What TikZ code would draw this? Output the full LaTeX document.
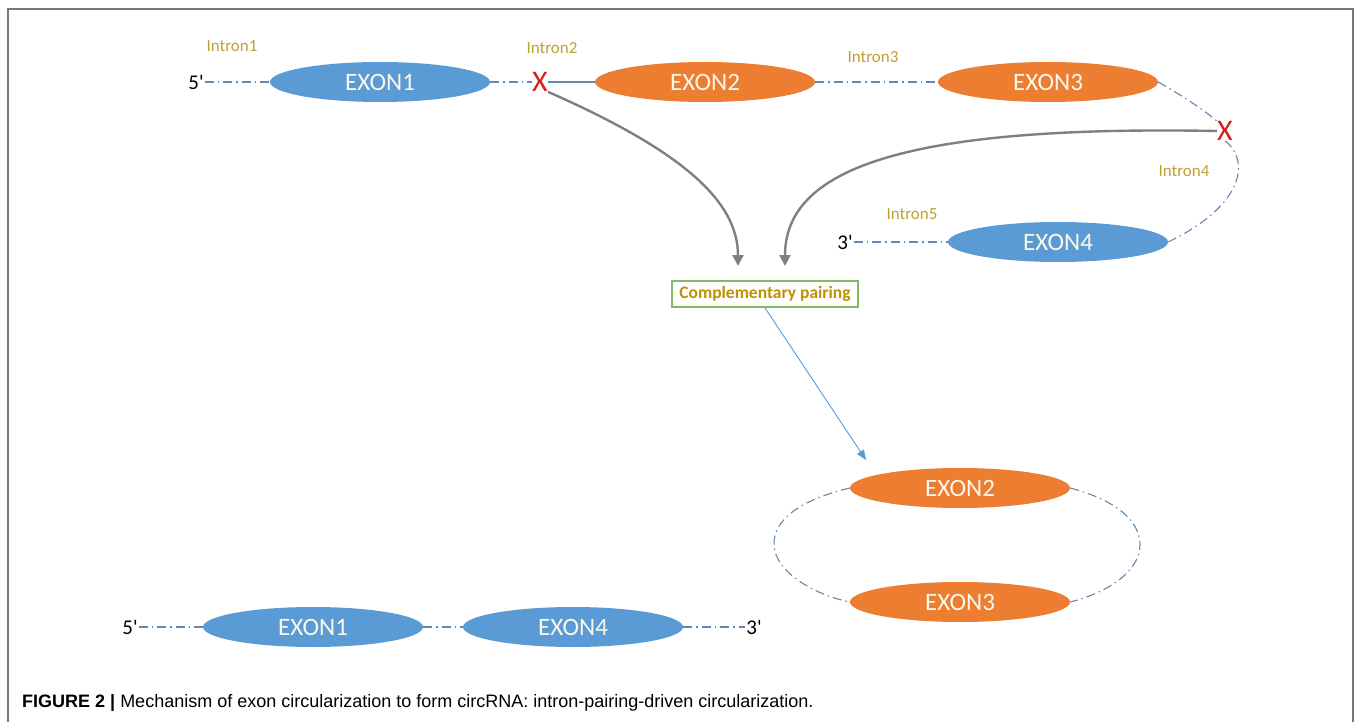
\documentclass[tikz,border=0pt]{standalone}
\usepackage{fontspec}
\setmainfont{Carlito}
\newfontfamily\capfont{Liberation Sans}
\usetikzlibrary{shapes.geometric,arrows.meta}
\definecolor{exblue}{RGB}{91,155,213}
\definecolor{exorange}{RGB}{237,125,49}
\definecolor{extext}{RGB}{250,248,235}
\definecolor{intgold}{RGB}{190,160,50}
\definecolor{pairgold}{RGB}{191,144,0}
\definecolor{boxgreen}{RGB}{130,185,100}
\definecolor{linkblue}{RGB}{100,135,175}
\definecolor{arrgray}{RGB}{128,128,128}
\definecolor{framegray}{RGB}{120,120,120}
\definecolor{cutred}{RGB}{215,30,30}
\tikzset{
  exon/.style={ellipse, minimum width=220pt, minimum height=40pt, inner sep=0pt,
    text=extext, font=\fontsize{25}{27}\selectfont},
  blueexon/.style={exon, fill=exblue},
  orangeexon/.style={exon, fill=exorange},
  intlabel/.style={text=intgold, font=\fontsize{17}{19}\selectfont},
  endlabel/.style={text=black, font=\fontsize{21}{23}\selectfont, inner sep=1pt},
  cut/.style={text=cutred, font=\fontsize{30}{32}\selectfont, inner sep=0pt},
  intron/.style={draw=linkblue, line width=1.1pt, dash pattern=on 9pt off 4pt on 1.5pt off 4pt},
  bigarrow/.style={draw=arrgray, line width=2.4pt, -{Triangle[length=11pt,width=11pt]}},
  thinarrow/.style={draw=exblue, line width=0.9pt, -{Triangle[length=10pt,width=8pt]}},
  pairbox/.style={draw=boxgreen, line width=1.8pt, fill=white, text=pairgold,
    font=\bfseries\fontsize{17.5}{19}\selectfont, minimum width=186pt, minimum height=26pt, inner sep=1pt}
}
\begin{document}
\begin{tikzpicture}[x=1pt,y=-1pt]
\useasboundingbox (0,0) rectangle (1360,722);
% frame
\draw[framegray, line width=2pt] (8,722) -- (8,9) -- (1353,9) -- (1353,722);

% top row
\node[endlabel] (p5a) at (196,82) {5\textquotesingle};
\node[blueexon] (e1) at (380,82) {EXON1};
\node[cut] (x1) at (540,82) {X};
\node[orangeexon] (e2) at (705,82) {EXON2};
\node[orangeexon] (e3) at (1048,82) {EXON3};
\node[cut] (x2) at (1225,131) {X};
\node[blueexon] (e4) at (1058,242) {EXON4};
\node[endlabel] (p3a) at (845,242) {3\textquotesingle};

\node[intlabel] (i1) at (232,46) {Intron1};
\node[intlabel] (i2) at (552,48) {Intron2};
\node[intlabel] (i3) at (873,57) {Intron3};
\node[intlabel] (i4) at (1184,171) {Intron4};
\node[intlabel] (i5) at (912,214) {Intron5};

\draw[intron] (p5a.east) -- (e1.west);
\draw[intron] (e1.east) -- (x1.west);
\draw[draw=linkblue, line width=1.1pt] (x1.east) -- (e2.west);
\draw[intron] (e2.east) -- (e3.west);
\draw[intron] (e3.east) .. controls (1190,100) and (1210,115) .. (x2.north west);
\draw[intron] (x2.south) .. controls (1250,160) and (1245,205) .. (e4.east);
\draw[intron] (p3a.east) -- (e4.west);

% complementary pairing
\node[pairbox] (cp) at (765,294) {Complementary pairing};
\coordinate (t1) at (738,266);
\coordinate (t2) at (785,266);
\draw[bigarrow] (x1.south east) .. controls (680,150) and (738,200) .. (t1);
\draw[bigarrow] (x2.west) .. controls (900,125) and (785,170) .. (t2);

% circular product
\node[orangeexon] (e2b) at (960,488) {EXON2};
\node[orangeexon] (e3b) at (960,602) {EXON3};
\coordinate (t3) at (866,460);
\draw[thinarrow] (cp.south) -- (t3);
\draw[intron] (e2b.west) .. controls (800,500) and (773,520) .. (774,545) .. controls (775,572) and (815,595) .. (e3b.west);
\draw[intron] (e2b.east) .. controls (1115,500) and (1140,520) .. (1140,545) .. controls (1140,570) and (1110,592) .. (e3b.east);

% linear product
\node[endlabel] (p5b) at (130,627) {5\textquotesingle};
\node[blueexon] (e1b) at (313,627) {EXON1};
\node[blueexon] (e4b) at (573,627) {EXON4};
\node[endlabel] (p3b) at (754,627) {3\textquotesingle};
\draw[intron] (p5b.east) -- (e1b.west);
\draw[intron] (e1b.east) -- (e4b.west);
\draw[intron] (e4b.east) -- (p3b.west);

% caption
\node[anchor=west, inner sep=0pt] (cap) at (22,703) {\capfont\fontsize{18}{20}\selectfont\textbf{FIGURE 2 |} Mechanism of exon circularization to form circRNA: intron-pairing-driven circularization.};
\end{tikzpicture}
\end{document}
